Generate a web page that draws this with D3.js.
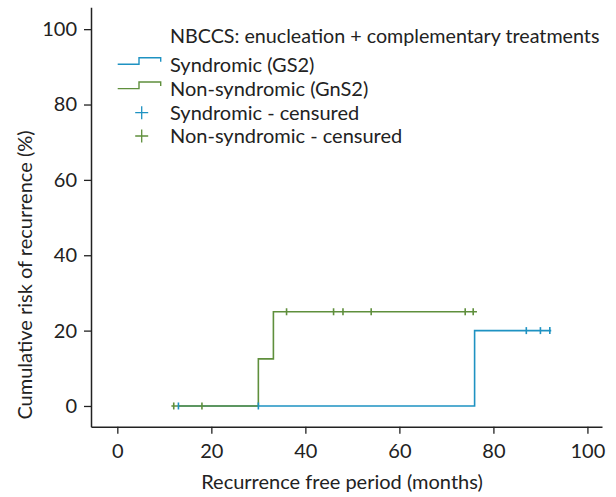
<!DOCTYPE html>
<html><head><meta charset="utf-8">
<script src="https://cdn.jsdelivr.net/npm/d3@7"></script>
<style>
html,body{margin:0;padding:0;background:#fff;}
text{font-family:Lato, "Open Sans", sans-serif;fill:#222;}
</style>
</head><body>
<svg id="c" width="616" height="497"></svg>
<script>
// ---- data ----
const xTicks = [0, 20, 40, 60, 80, 100];
const yTicks = [0, 20, 40, 60, 80, 100];
// Syndromic (GS2) step curve
const synTimes = [13, 76, 92.3];
const synRisk  = [0, 20, 20];
const synCensored = [13, 30, 87, 90, 92];
// Non-syndromic (GnS2) step curve
const nonTimes = [11.5, 30, 33.2, 76.5];
const nonRisk  = [0, 12.5, 25, 25];
const nonCensored = [12, 18, 36, 46, 48, 54, 74, 75.7];

const legendTitle = "NBCCS: enucleation + complementary treatments";
const legendLabels = ["Syndromic (GS2)", "Non-syndromic (GnS2)", "Syndromic - censured", "Non-syndromic - censured"];
const blue = "#1e92c2", green = "#5f8f3c";

const svg = d3.select("#c");
const x = d3.scaleLinear().domain([-5.6, 103.1]).range([91, 602]);
const y = d3.scaleLinear().domain([-5.5, 105.8]).range([426.7, 7.3]);

// axes
const xAxis = svg.append("g").attr("transform", "translate(0,426.7)")
  .call(d3.axisBottom(x).tickValues(xTicks).tickSize(7).tickSizeOuter(0).tickPadding(10));
const yAxis = svg.append("g").attr("transform", "translate(91,0)")
  .call(d3.axisLeft(y).tickValues(yTicks).tickSize(7).tickSizeOuter(0).tickPadding(7));
[xAxis, yAxis].forEach(g => {
  g.select(".domain").attr("stroke", "#222").attr("stroke-width", 1.5);
  g.selectAll(".tick line").attr("stroke", "#222").attr("stroke-width", 1.3);
  g.selectAll(".tick text").attr("font-size", 20).attr("font-family", "Lato").attr("fill", "#222");
});

svg.append("text").attr("x", 342).attr("y", 489).attr("text-anchor", "middle")
  .attr("font-size", 20).text("Recurrence free period (months)");
svg.append("text").attr("transform", "translate(32,275) rotate(-90)").attr("text-anchor", "middle")
  .attr("font-size", 20).text("Cumulative risk of recurrence (%)");

// curves
const line = d3.line().x(d => x(d[0])).y(d => y(d[1])).curve(d3.curveStepAfter);
const synPts = synTimes.map((t, i) => [t, synRisk[i]]);
const nonPts = nonTimes.map((t, i) => [t, nonRisk[i]]);
svg.append("path").attr("d", line(synPts)).attr("fill", "none").attr("stroke", blue).attr("stroke-width", 1.6);
svg.append("path").attr("d", line(nonPts)).attr("fill", "none").attr("stroke", green).attr("stroke-width", 1.6);

function riskAt(times, risk, t) {
  let r = risk[0];
  for (let i = 0; i < times.length; i++) if (times[i] <= t) r = risk[i];
  return r;
}
function censor(list, times, risk, color) {
  svg.append("g").selectAll("line").data(list).join("line")
    .attr("x1", d => x(d)).attr("x2", d => x(d))
    .attr("y1", d => y(riskAt(times, risk, d)) - 3.5)
    .attr("y2", d => y(riskAt(times, risk, d)) + 3.5)
    .attr("stroke", color).attr("stroke-width", 1.6);
}
censor(synCensored, synTimes, synRisk, blue);
censor(nonCensored, nonTimes, nonRisk, green);

// legend
const lg = svg.append("g");
lg.append("text").attr("x", 170).attr("y", 43.3).attr("font-size", 19.7).text(legendTitle);
const rowY = [71.7, 96, 120, 143.3];
legendLabels.forEach((lab, i) => {
  lg.append("text").attr("x", 170).attr("y", rowY[i]).attr("font-size", 20).text(lab);
});
[[blue, 0], [green, 1]].forEach(([c, i]) => {
  const base = rowY[i] - 7.4;
  lg.append("path")
    .attr("d", `M117.7,${base}H139V${base - 6.6}H160.7V${base - 2.6}`)
    .attr("fill", "none").attr("stroke", c).attr("stroke-width", 1.4);
});
[[blue, 2], [green, 3]].forEach(([c, i]) => {
  const cy = rowY[i] - 7.3, cx = 141.7;
  lg.append("path").attr("d", `M${cx - 6.5},${cy}H${cx + 6.5}M${cx},${cy - 6.5}V${cy + 6.5}`)
    .attr("stroke", c).attr("stroke-width", 1.3).attr("fill", "none");
});
</script>
</body></html>
